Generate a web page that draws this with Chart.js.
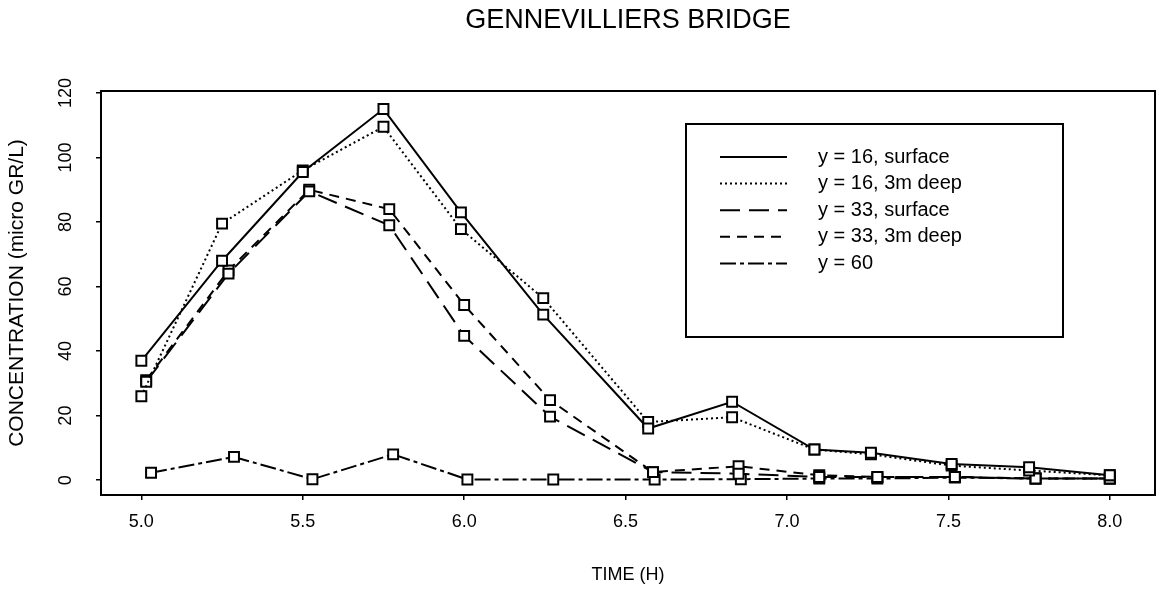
<!DOCTYPE html>
<html>
<head>
<meta charset="utf-8">
<title>Gennevilliers Bridge</title>
<script src="https://cdn.jsdelivr.net/npm/chart.js@4.4.1/dist/chart.umd.min.js"></script>
<style>
  html, body { margin: 0; padding: 0; background: #fff; }
  canvas { display: block; }
</style>
</head>
<body>
<canvas id="concChart" width="1164" height="605"></canvas>
<script>
// sampling times (hours) at each station
const timesY16 = [5.0, 5.25, 5.5, 5.75, 5.99, 6.245, 6.57, 6.83, 7.085, 7.26, 7.51, 7.75, 8.0];
const timesY33 = [5.015, 5.27, 5.52, 5.768, 6.0, 6.266, 6.585, 6.85, 7.1, 7.28, 7.52, 7.77, 8.0];
const timesY60 = [5.03, 5.287, 5.53, 5.78, 6.01, 6.276, 6.59, 6.857, 7.1, 7.28, 7.52, 7.77, 8.0];

// concentrations (micro gr/l)
const concY16Surface = [37, 68, 95.5, 115, 83, 51.3, 16, 24.3, 9.5, 8.5, 5, 4, 1.5];
const concY16Deep    = [26, 79.5, 96, 109.5, 77.8, 56.4, 18, 19.5, 9.5, 8, 4.5, 3, 1.5];
const concY33Surface = [30.5, 64, 89.5, 79, 44.7, 19.7, 2.5, 2, 1, 1, 1, 0.5, 0.5];
const concY33Deep    = [31, 65, 90, 84, 54.3, 24.8, 2.5, 4.3, 1.5, 1, 1, 0.5, 0.5];
const concY60        = [2.3, 7.2, 0.3, 8, 0.2, 0.2, 0.2, 0.3, 0.5, 0.5, 0.8, 0.5, 0.5];

const seriesLabels = ['y = 16, surface', 'y = 16, 3m deep', 'y = 33, surface', 'y = 33, 3m deep', 'y = 60'];
const xTickValues = [5.0, 5.5, 6.0, 6.5, 7.0, 7.5, 8.0];
const yTickValues = [0, 20, 40, 60, 80, 100, 120];

const FONT = "'Liberation Sans', Arial, Helvetica, sans-serif";

function toPoints(xs, ys) {
    return xs.map((x, i) => ({ x: x, y: ys[i] }));
}

function makeSeries(label, xs, ys, dash) {
    return {
        label: label,
        data: toPoints(xs, ys),
        borderColor: '#000',
        borderWidth: 2,
        borderDash: dash,
        pointStyle: 'rect',
        pointRadius: 7,
        pointBorderWidth: 2,
        pointBorderColor: '#000',
        pointBackgroundColor: '#fff',
        tension: 0,
        fill: false,
    };
}

// box round the plot area
const frame = {
    id: 'frame',
    afterDraw(chart) {
        const { ctx, chartArea: a } = chart;
        ctx.save();
        ctx.strokeStyle = '#000';
        ctx.lineWidth = 2;
        ctx.strokeRect(a.left, a.top, a.right - a.left, a.bottom - a.top);
        ctx.restore();
    }
};

// y tick labels are written sideways, reading upwards
const sidewaysYLabels = {
    id: 'sidewaysYLabels',
    afterDraw(chart) {
        const { ctx, scales: { y } } = chart;
        ctx.save();
        ctx.fillStyle = '#000';
        ctx.font = '18px ' + FONT;
        ctx.textAlign = 'center';
        ctx.textBaseline = 'middle';
        y.ticks.forEach(t => {
            const py = y.getPixelForValue(t.value);
            ctx.save();
            ctx.translate(66, py);
            ctx.rotate(-Math.PI / 2);
            ctx.fillText(String(t.value), 0, 0);
            ctx.restore();
        });
        ctx.restore();
    }
};

// legend box inside the plot, top right
const boxLegend = {
    id: 'boxLegend',
    afterDraw(chart) {
        const { ctx } = chart;
        const left = 686, top = 124, right = 1063, bottom = 337;
        ctx.save();
        ctx.fillStyle = '#fff';
        ctx.fillRect(left, top, right - left, bottom - top);
        ctx.strokeStyle = '#000';
        ctx.lineWidth = 2;
        ctx.strokeRect(left, top, right - left, bottom - top);
        ctx.font = '20px ' + FONT;
        ctx.textBaseline = 'middle';
        ctx.fillStyle = '#000';
        chart.data.datasets.forEach((ds, i) => {
            const rowY = 157 + i * 26.6;
            ctx.beginPath();
            ctx.setLineDash(ds.borderDash || []);
            ctx.lineWidth = 2;
            ctx.moveTo(720, rowY);
            ctx.lineTo(787, rowY);
            ctx.stroke();
            ctx.setLineDash([]);
            ctx.fillText(ds.label, 818, rowY);
        });
        ctx.restore();
    }
};

const config = {
    type: 'line',
    data: {
        datasets: [
            makeSeries(seriesLabels[0], timesY16, concY16Surface, []),
            makeSeries(seriesLabels[1], timesY16, concY16Deep, [2, 3]),
            makeSeries(seriesLabels[2], timesY33, concY33Surface, [20, 9]),
            makeSeries(seriesLabels[3], timesY33, concY33Deep, [10, 7]),
            makeSeries(seriesLabels[4], timesY60, concY60, [16, 4, 4, 4]),
        ]
    },
    plugins: [frame, sidewaysYLabels, boxLegend],
    options: {
        responsive: false,
        animation: false,
        devicePixelRatio: 1,
        layout: { padding: { left: 0, right: 4, top: 0, bottom: 0 } },
        plugins: {
            legend: { display: false },
            tooltip: { enabled: false },
            title: {
                display: true,
                text: 'GENNEVILLIERS BRIDGE',
                fullSize: false,
                color: '#000',
                font: { family: FONT, size: 27, weight: 'normal' },
                padding: { top: 4, bottom: 54.6 },
            },
        },
        scales: {
            x: {
                type: 'linear',
                min: 4.875,
                max: 8.14,
                afterBuildTicks: s => { s.ticks = xTickValues.map(v => ({ value: v })); },
                afterFit: s => { s.height = 110; },
                border: { display: false },
                grid: { drawOnChartArea: false, drawTicks: true, tickLength: 5, color: '#000', lineWidth: 1.5 },
                ticks: {
                    color: '#000',
                    font: { family: FONT, size: 18 },
                    padding: 11,
                    autoSkip: false,
                    maxRotation: 0,
                    callback: v => Number(v).toFixed(1),
                },
                title: {
                    display: true,
                    text: 'TIME (H)',
                    color: '#000',
                    font: { family: FONT, size: 18 },
                    padding: { top: 0, bottom: 19 },
                },
            },
            y: {
                type: 'linear',
                min: -4.6,
                max: 120.6,
                afterBuildTicks: s => { s.ticks = yTickValues.map(v => ({ value: v })); },
                afterFit: s => { s.width = 101; },
                border: { display: false },
                grid: { drawOnChartArea: false, drawTicks: true, tickLength: 5, color: '#000', lineWidth: 1.5 },
                ticks: { display: false },
                title: {
                    display: true,
                    text: 'CONCENTRATION (micro GR/L)',
                    color: '#000',
                    font: { family: FONT, size: 21 },
                    padding: { top: 5, bottom: 0 },
                },
            },
        },
    },
};

const ctx = document.getElementById('concChart').getContext('2d');
const chart = new Chart(ctx, config);
</script>
</body>
</html>
